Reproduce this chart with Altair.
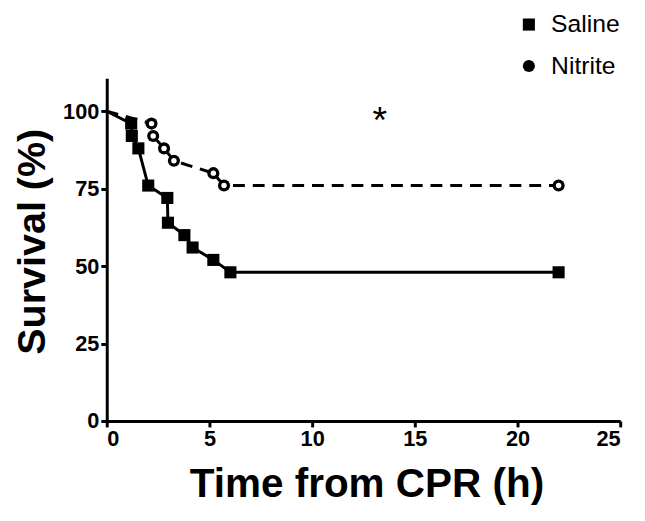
import altair as alt
import pandas as pd

# Kaplan-Meier style survival data
saline_time = [0, 1.19, 1.22, 1.54, 2.02, 2.95, 2.98, 3.78, 4.18, 5.19, 6.02, 22]
saline_surv = [100, 96, 92, 88, 76, 72, 64, 60, 56, 52, 48, 48]
nitrite_time = [0, 2.18, 2.26, 2.79, 3.27, 5.19, 5.71, 22]
nitrite_surv = [100, 96, 92, 88, 84, 80, 76, 76]
groups = ["Saline", "Nitrite"]

x_ticks = [0, 5, 10, 15, 20, 25]
y_ticks = [0, 25, 50, 75, 100]

annot_x = [13.3]
annot_y = [98.5]
annot_text = ["*"]

df = pd.concat([
    pd.DataFrame({"time": saline_time, "surv": saline_surv, "group": "Saline"}),
    pd.DataFrame({"time": nitrite_time, "surv": nitrite_surv, "group": "Nitrite"}),
], ignore_index=True)

ann = pd.DataFrame({"x": annot_x, "y": annot_y, "t": annot_text})

FONT = "Liberation Sans"

xs = alt.Scale(domain=[0, 25], nice=False, zero=False)
ys = alt.Scale(domain=[0, 110.6], nice=False, zero=False)

x_axis = alt.Axis(values=x_ticks, title="Time from CPR (h)", titleFontSize=41,
                  titleFont=FONT, titleFontWeight="bold", titleColor="black",
                  titleX=263, titleY=76, titleBaseline="alphabetic", titleAnchor="middle",
                  labelFont=FONT, labelFontWeight="bold", labelFontSize=22, labelColor="black",
                  labelPadding=2)
y_axis = alt.Axis(values=y_ticks, title="Survival (%)", titleFontSize=40,
                  titleFont=FONT, titleFontWeight="bold", titleColor="black",
                  titleX=-63, titleY=165, titleBaseline="alphabetic", titleAngle=270,
                  labelFont=FONT, labelFontWeight="bold", labelFontSize=22, labelColor="black",
                  labelPadding=2)

base = alt.Chart(df)

saline_line = base.transform_filter("datum.group == 'Saline'").mark_line(
    color="black", strokeWidth=3
).encode(
    x=alt.X("time:Q", scale=xs, axis=x_axis),
    y=alt.Y("surv:Q", scale=ys, axis=y_axis),
    order="time:Q",
)

nitrite_line = base.transform_filter("datum.group == 'Nitrite'").mark_line(
    color="black", strokeWidth=3, strokeDash=[12, 8]
).encode(
    x=alt.X("time:Q", scale=xs),
    y=alt.Y("surv:Q", scale=ys),
    order="time:Q",
)

points = base.transform_filter("datum.time > 0").mark_point(
    filled=True, color="black", opacity=1, size=150
).encode(
    x=alt.X("time:Q", scale=xs),
    y=alt.Y("surv:Q", scale=ys),
    shape=alt.Shape("group:N", scale=alt.Scale(domain=groups, range=["square", "circle"]),
                    legend=alt.Legend(title=None, orient="none", legendX=415, legendY=-67,
                                      labelFont=FONT, labelFontSize=25, labelColor="black",
                                      symbolSize=150, symbolFillColor="black",
                                      symbolStrokeColor="black",
                                      rowPadding=16, labelOffset=10)),
)

# white centres for the open Nitrite circles
holes = base.transform_filter("datum.time > 0 && datum.group == 'Nitrite'").mark_point(
    filled=True, color="white", opacity=1, size=30, shape="circle"
).encode(
    x=alt.X("time:Q", scale=xs),
    y=alt.Y("surv:Q", scale=ys),
)

star = alt.Chart(ann).mark_text(fontSize=38, font=FONT, color="black", baseline="middle", dy=6).encode(
    x=alt.X("x:Q", scale=xs),
    y=alt.Y("y:Q", scale=ys),
    text="t:N",
)

chart = alt.layer(saline_line, nitrite_line, points, holes, star).properties(
    width=520, height=347,
    autosize=alt.AutoSizeParams(type="none"),
    padding={"left": 100, "top": 68, "right": 17, "bottom": 98},
).configure_view(stroke=None).configure_axis(
    grid=False, domainColor="black", domainWidth=3, tickColor="black", tickWidth=3, tickSize=6,
)

chart.save("out.html", embed_options={"renderer": "svg", "actions": False})
